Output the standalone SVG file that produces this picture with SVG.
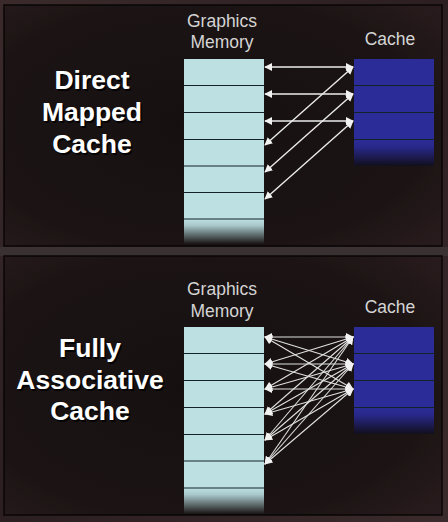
<svg xmlns="http://www.w3.org/2000/svg" width="448" height="522" viewBox="0 0 448 522">
<defs>
<style>
.title{font-family:"Liberation Sans",Arial,sans-serif;font-weight:bold;font-size:26.5px;fill:#ffffff;text-anchor:middle}
.shadow{font-family:"Liberation Sans",Arial,sans-serif;font-weight:bold;font-size:26.5px;fill:#000000;opacity:0.8;text-anchor:middle}
.lbl{font-family:"Liberation Sans",Arial,sans-serif;font-size:17.5px;fill:#d4d4d4;text-anchor:middle}
.mem{fill:#bde0e3}
.cache{fill:#2c2c98}
.sep{stroke:#14232a;stroke-width:1.2}
.panel{fill:url(#pbg);stroke:#0a0606;stroke-width:1.5}
.link{stroke:#ececec;stroke-width:1.4;fill:none;marker-start:url(#ah);marker-end:url(#ah)}
.link2{stroke:#e0e0e0;stroke-width:1.1;fill:none;marker-start:url(#ah);marker-end:url(#ah)}
</style>
<marker id="ah" viewBox="0 0 10 10" refX="9" refY="5" markerWidth="8" markerHeight="8" markerUnits="userSpaceOnUse" orient="auto-start-reverse">
<path d="M0,0 L10,5 L0,10 z" fill="#f2f2f2"/>
</marker>
<linearGradient id="bg" x1="0" y1="0" x2="1" y2="1">
<stop offset="0" stop-color="#3a2a2c"/>
<stop offset="0.5" stop-color="#2c1f21"/>
<stop offset="1" stop-color="#3a2a2c"/>
</linearGradient>
<radialGradient id="pbg" cx="0.45" cy="0.5" r="0.75">
<stop offset="0" stop-color="#151010"/>
<stop offset="0.7" stop-color="#1c1414"/>
<stop offset="1" stop-color="#2a1c1e"/>
</radialGradient>
<linearGradient id="memfade" x1="0" y1="0" x2="0" y2="1">
<stop offset="0" stop-color="#bde0e3"/>
<stop offset="0.25" stop-color="#a9c9cc"/>
<stop offset="1" stop-color="#1a1414"/>
</linearGradient>
<linearGradient id="cachefade" x1="0" y1="0" x2="0" y2="1">
<stop offset="0" stop-color="#2c2c98"/>
<stop offset="0.3" stop-color="#28288a"/>
<stop offset="1" stop-color="#120f1c"/>
</linearGradient>
</defs>

<rect x="0" y="0" width="448" height="522" fill="url(#bg)"/>
<rect x="0" y="247" width="448" height="9" fill="#3a3232"/>

<g id="panel-top">
<rect class="panel" x="4" y="5" width="438" height="241"/>
</g>
<g id="panel-bottom">
<rect class="panel" x="4" y="256" width="438" height="259"/>
</g>

<g id="title-direct">
<text class="shadow" x="93.5" y="90.5">Direct</text>
<text class="shadow" x="93.5" y="122.5">Mapped</text>
<text class="shadow" x="93.5" y="154.5">Cache</text>
<text class="title" x="92" y="89">Direct</text>
<text class="title" x="92" y="121">Mapped</text>
<text class="title" x="92" y="153">Cache</text>
</g>

<g id="title-fully">
<text class="shadow" x="91.5" y="358.5">Fully</text>
<text class="shadow" x="91.5" y="390.5">Associative</text>
<text class="shadow" x="91.5" y="421.5">Cache</text>
<text class="title" x="90" y="357">Fully</text>
<text class="title" x="90" y="389">Associative</text>
<text class="title" x="90" y="420">Cache</text>
</g>

<g id="memory-top">
<text class="lbl" x="222" y="27">Graphics</text>
<text class="lbl" x="222" y="48">Memory</text>
<rect class="mem" x="184" y="59" width="80" height="160"/>
<rect x="184" y="219" width="80" height="25" fill="url(#memfade)"/>
<line class="sep" x1="184" y1="85.5" x2="264" y2="85.5"/>
<line class="sep" x1="184" y1="112.5" x2="264" y2="112.5"/>
<line class="sep" x1="184" y1="139.5" x2="264" y2="139.5"/>
<line class="sep" x1="184" y1="166" x2="264" y2="166"/>
<line class="sep" x1="184" y1="192.5" x2="264" y2="192.5"/>
<line class="sep" x1="184" y1="219" x2="264" y2="219"/>
</g>

<g id="cache-top">
<text class="lbl" x="390" y="45">Cache</text>
<rect class="cache" x="354" y="59" width="80" height="80"/>
<rect x="354" y="139" width="80" height="27" fill="url(#cachefade)"/>
<line class="sep" x1="354" y1="85.5" x2="434" y2="85.5"/>
<line class="sep" x1="354" y1="112.5" x2="434" y2="112.5"/>
<line class="sep" x1="354" y1="139.5" x2="434" y2="139.5"/>
</g>

<g id="memory-bottom">
<text class="lbl" x="222" y="295">Graphics</text>
<text class="lbl" x="222" y="317">Memory</text>
<rect class="mem" x="184" y="327" width="80" height="161"/>
<rect x="184" y="488" width="80" height="26" fill="url(#memfade)"/>
<line class="sep" x1="184" y1="353.5" x2="264" y2="353.5"/>
<line class="sep" x1="184" y1="380.5" x2="264" y2="380.5"/>
<line class="sep" x1="184" y1="407.5" x2="264" y2="407.5"/>
<line class="sep" x1="184" y1="434.5" x2="264" y2="434.5"/>
<line class="sep" x1="184" y1="461" x2="264" y2="461"/>
<line class="sep" x1="184" y1="488" x2="264" y2="488"/>
</g>

<g id="cache-bottom">
<text class="lbl" x="390" y="313">Cache</text>
<rect class="cache" x="354" y="327" width="80" height="80"/>
<rect x="354" y="407" width="80" height="27" fill="url(#cachefade)"/>
<line class="sep" x1="354" y1="353.5" x2="434" y2="353.5"/>
<line class="sep" x1="354" y1="380.5" x2="434" y2="380.5"/>
<line class="sep" x1="354" y1="407.5" x2="434" y2="407.5"/>
</g>

<g id="connectors-top">
<line class="link" x1="265" y1="67" x2="353" y2="67"/>
<line class="link" x1="265" y1="94" x2="353" y2="94"/>
<line class="link" x1="265" y1="121" x2="353" y2="121"/>
<line class="link" x1="265" y1="145" x2="353" y2="67"/>
<line class="link" x1="265" y1="172" x2="353" y2="94"/>
<line class="link" x1="265" y1="199" x2="353" y2="121"/>
</g>

<g id="connectors-bottom">
<line class="link2" x1="265" y1="337" x2="353" y2="337"/>
<line class="link2" x1="265" y1="364" x2="353" y2="337"/>
<line class="link2" x1="265" y1="389" x2="353" y2="337"/>
<line class="link2" x1="265" y1="414" x2="353" y2="337"/>
<line class="link2" x1="265" y1="440" x2="353" y2="337"/>
<line class="link2" x1="265" y1="464" x2="353" y2="337"/>
<line class="link2" x1="265" y1="337" x2="353" y2="364"/>
<line class="link2" x1="265" y1="364" x2="353" y2="364"/>
<line class="link2" x1="265" y1="389" x2="353" y2="364"/>
<line class="link2" x1="265" y1="414" x2="353" y2="364"/>
<line class="link2" x1="265" y1="440" x2="353" y2="364"/>
<line class="link2" x1="265" y1="464" x2="353" y2="364"/>
<line class="link2" x1="265" y1="337" x2="353" y2="389"/>
<line class="link2" x1="265" y1="364" x2="353" y2="389"/>
<line class="link2" x1="265" y1="389" x2="353" y2="389"/>
<line class="link2" x1="265" y1="414" x2="353" y2="389"/>
<line class="link2" x1="265" y1="440" x2="353" y2="389"/>
<line class="link2" x1="265" y1="464" x2="353" y2="389"/>
</g>
</svg>
